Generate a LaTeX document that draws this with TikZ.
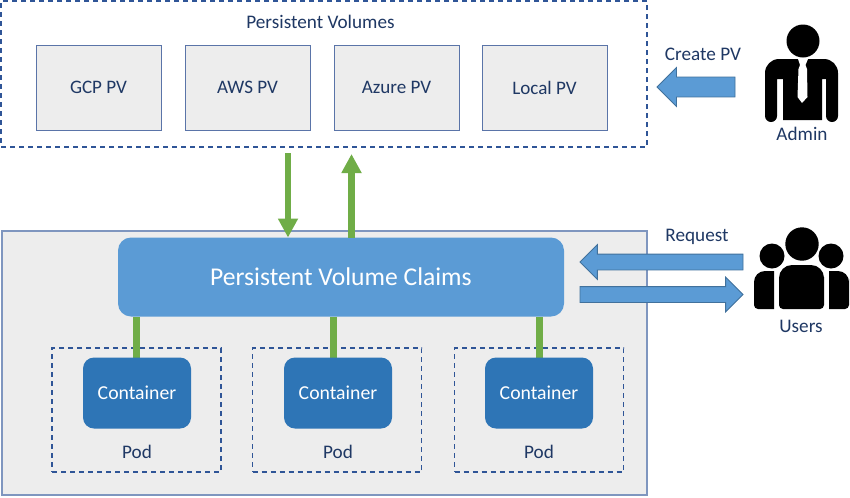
\documentclass[tikz,border=0pt]{standalone}
\usepackage{fontspec}
\setmainfont{Carlito}
\usetikzlibrary{arrows.meta,shapes.arrows}
\def\px{0.75pt}
\definecolor{navy}{HTML}{1F3864}
\definecolor{dashblue}{HTML}{2F5597}
\definecolor{cardline}{HTML}{5A74A8}
\definecolor{outerline}{HTML}{7F96BF}
\definecolor{panel}{HTML}{EDEDED}
\definecolor{pvcblue}{HTML}{5B9BD5}
\definecolor{ctrblue}{HTML}{2E75B6}
\definecolor{arrowline}{HTML}{41719C}
\definecolor{green}{HTML}{70AD47}
\tikzset{
  x=0.75pt,y=-0.75pt,
  every node/.style={outer sep=0pt,inner sep=0pt},
  label/.style={text=navy,font=\fontsize{14.4}{16}\selectfont},
  dashbox/.style={draw=dashblue,line width=1.6*\px,dash pattern=on 5*\px off 4*\px},
  card/.style={draw=cardline,line width=0.8*\px,fill=panel,text=navy,font=\fontsize{14.3}{16}\selectfont,minimum width=125*\px,minimum height=85*\px},
  panelbox/.style={draw=outerline,line width=1.5*\px,fill=panel},
  pvcbox/.style={fill=pvcblue,rounded corners=13*\px,minimum width=446*\px,minimum height=79*\px,text=white,font=\fontsize{19.2}{22}\selectfont},
  ctr/.style={fill=ctrblue,rounded corners=11*\px,minimum width=108*\px,minimum height=71*\px,text=white,font=\fontsize{14.8}{16}\selectfont},
  podbox/.style={dashbox,minimum width=169*\px,minimum height=124*\px},
  greenarrow/.style={draw=green,line width=6.2*\px,-{Triangle[length=19*\px,width=19*\px]}},
  stem/.style={draw=green,line width=7*\px},
  blockarrow/.style={single arrow,draw=arrowline,line width=0.8*\px,fill=pvcblue,anchor=tip},
  icon/.style={fill=black},
}
\begin{document}
\begin{tikzpicture}
\useasboundingbox (0,0) rectangle (850,497);
\fill[white] (0,0) rectangle (850,497);
% Persistent volumes
\node[dashbox,minimum width=646*\px,minimum height=146*\px] (pvs) at (324,74) {};
\node[label] (pvt) at (320.5,22) {Persistent Volumes};
\node[card] (gcp) at (98.5,87.5) {GCP PV};
\node[card] (aws) at (247.5,87.5) {AWS PV};
\node[card] (azure) at (396.5,87.5) {Azure PV};
\node[card] (local) at (544.5,87.5) {Local PV};
% Lower panel
\node[panelbox,minimum width=645*\px,minimum height=264*\px] (panel) at (324.5,363) {};
\node[pvcbox] (pvc) at (341,277) {Persistent Volume Claims};
\node[podbox] (pod1) at (136.5,410) {};
\node[podbox] (pod2) at (337,410) {};
\node[podbox] (pod3) at (539,410) {};
\node[label] (pl1) at (137,452) {Pod};
\node[label] (pl2) at (338,452) {Pod};
\node[label] (pl3) at (539,452) {Pod};
\coordinate (s1) at (136.7,358);
\coordinate (s2) at (333.5,358);
\coordinate (s3) at (539,358);
\draw[stem] (s1) -- (s1 |- pvc.south);
\draw[stem] (s2) -- (s2 |- pvc.south);
\draw[stem] (s3) -- (s3 |- pvc.south);
\node[ctr] (c1) at (137,393) {Container};
\node[ctr] (c2) at (338,393) {Container};
\node[ctr] (c3) at (539,393) {Container};
% Green arrows
\coordinate (dn) at (288,153);
\coordinate (up) at (351.5,154);
\draw[greenarrow] (dn) -- (dn |- pvc.north);
\draw[greenarrow] (up |- pvc.north) -- (up);
% Block arrows
\node[blockarrow,shape border rotate=180,minimum height=78*\px,minimum width=39*\px,inner sep=9.5*\px] (createarrow) at (657,87) {};
\node[blockarrow,shape border rotate=180,minimum height=163*\px,minimum width=30*\px,inner sep=7.5*\px] (reqarrow) at (580,262) {};
\node[blockarrow,minimum height=163*\px,minimum width=30*\px,inner sep=7.5*\px] (resarrow) at (743,294.5) {};
\node[label] (create) at (703,54) {Create PV};
\node[label] (request) at (697,237) {Request};
% Admin icon
\fill[icon] (803,41) circle (16.5);
\fill[icon]
  (765,116) -- (765,73) arc[start angle=180,end angle=270,radius=14] -- (824,59)
  arc[start angle=270,end angle=360,radius=14] -- (838,116)
  arc[start angle=0,end angle=180,radius=6] -- (826,79) -- (822,79) -- (822,120)
  -- (783,120) -- (783,79) -- (777,79) -- (777,116)
  arc[start angle=0,end angle=180,radius=6] -- cycle;
\fill[white] (798,59) -- (808,59) -- (805.5,65) -- (807,69) -- (807.5,97) -- (802,103) -- (797.5,97) -- (798.5,69) -- (800,65) -- cycle;
\node[label] (admin) at (802,134) {Admin};
% Users icon
\fill[icon] (802,244) circle (16.7);
\fill[icon] (772,256) circle (12.5);
\fill[icon] (831,256) circle (12.5);
\fill[icon,rounded corners=4*\px] (779,309) -- (779,290) [rounded corners=13*\px] -- (779,265) -- (824,265) -- (824,290) [rounded corners=4*\px] -- (824,309) -- cycle;
\fill[icon,rounded corners=4*\px] (774,309) -- (754,309) -- (754,290) [rounded corners=11*\px] -- (754,271) [sharp corners] -- (774,271) -- cycle;
\fill[icon,sharp corners] (829,271) [rounded corners=11*\px] -- (849,271) -- (849,290) [rounded corners=4*\px] -- (849,309) [sharp corners] -- (829,309) -- cycle;
\node[label] (users) at (801,326) {Users};
\end{tikzpicture}
\end{document}
